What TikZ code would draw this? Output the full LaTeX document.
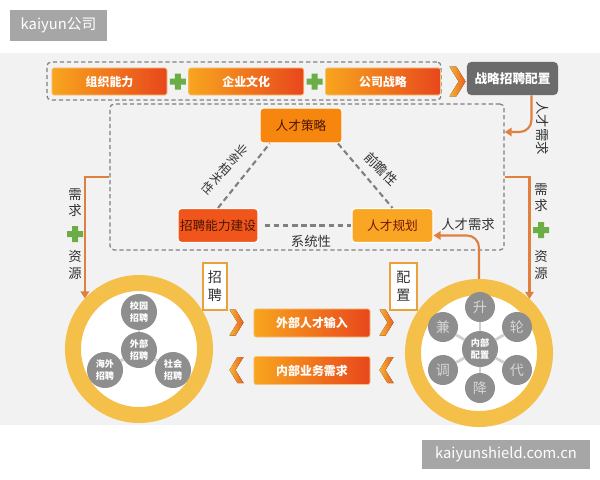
\documentclass[tikz,border=0pt]{standalone}
\usepackage{fontspec}
\setmainfont{Noto Sans CJK SC}
\usetikzlibrary{positioning,calc,arrows.meta}
\definecolor{bg}{HTML}{F2F2F2}
\definecolor{orgL}{HTML}{F8A51E}
\definecolor{orgR}{HTML}{E8471C}
\definecolor{orgE}{HTML}{F6C27A}
\definecolor{celA}{HTML}{F7860F}
\definecolor{celB}{HTML}{F0561C}
\definecolor{celC}{HTML}{F8A623}
\definecolor{txtA}{HTML}{4A1400}
\definecolor{txtB}{HTML}{7A1500}
\definecolor{txtD}{HTML}{333333}
\definecolor{dashC}{HTML}{808080}
\definecolor{lineC}{HTML}{E0803F}
\definecolor{tagC}{HTML}{E9A23B}
\definecolor{ringC}{HTML}{F4C04A}
\definecolor{dotC}{HTML}{8E8E8E}
\definecolor{dotT}{HTML}{D6D6D6}
\definecolor{linkC}{HTML}{D0D0D0}
\definecolor{wmC}{HTML}{A6A6A6}
\definecolor{grayD}{HTML}{6B6B6B}
\definecolor{plusC}{HTML}{6AAE45}
\definecolor{chvA}{HTML}{F9B233}
\definecolor{chvB}{HTML}{E8601C}
\tikzset{
  chevr/.pic={\fill[left color=chvA,right color=chvB] (-7,-13) -- (-1,-13) -- (7,0) -- (-1,13) -- (-7,13) -- (1,0) -- cycle;},
  plus/.pic={\fill[plusC] (-8,-3) rectangle (8,3) (-3,-8) rectangle (3,8);}
}
\begin{document}
\begin{tikzpicture}[x=0.025cm,y=-0.025cm,node distance=0.525cm,
    orgbox/.style={rounded corners=1.5pt,left color=orgL,right color=orgR,draw=orgE,line width=0.5pt,text=white,
      font=\bfseries\fontsize{8.5}{9}\selectfont,minimum width=2.875cm,minimum height=0.675cm,inner sep=0},
    tri/.style={rounded corners=2.5pt,draw=white,line width=0.8pt,minimum height=0.85cm,inner sep=0,font=\fontsize{9}{10}\selectfont},
    frame/.style={draw=dashC,dash pattern=on 3pt off 2pt,line width=0.9pt,rounded corners=3pt,inner sep=0},
    tie/.style={draw=dashC,dash pattern=on 4pt off 2.5pt,line width=1.5pt},
    oline/.style={draw=lineC,line width=1.5pt,-{Triangle[length=5pt,width=6pt]}},
    tag/.style={draw=tagC,fill=white,line width=1.2pt,minimum width=0.6cm,minimum height=1.175cm,inner sep=0,align=center,
      font=\fontsize{10}{13}\selectfont,text=txtD},
    ring/.style={circle,draw=ringC,line width=0.4cm,fill=white,minimum size=3.3cm,inner sep=0},
    dot/.style={circle,fill=dotC,text=white,inner sep=0,align=center,font=\bfseries\fontsize{6.5}{8}\selectfont},
    link/.style={draw=linkC,line width=2pt},
    vlab/.style={align=center,font=\fontsize{9.5}{11.5}\selectfont,text=txtD},
    wm/.style={fill=wmC,text=white,inner sep=0,font=\fontsize{10.5}{12}\selectfont}]
  \useasboundingbox (0,0) rectangle (600,480);
  \fill[bg] (0,53) rectangle (600,425);
  \node[wm,minimum width=2.425cm,minimum height=0.75cm] (w1) at (58.5,25.5) {kaiyun公司};
  \node[wm,minimum width=4.2cm,minimum height=0.725cm] (w2) at (506,454.5) {kaiyunshield.com.cn};
  % top row
  \node[frame,minimum width=9.85cm,minimum height=0.95cm] (top) at (244,81) {};
  \node[orgbox] (o1) at (109.5,81.5) {组织能力};
  \node[orgbox,right=of o1] (o2) {企业文化};
  \node[orgbox,right=of o2] (o3) {公司战略};
  \pic at ($(o1.east)!0.5!(o2.west)$) {plus};
  \pic at ($(o2.east)!0.5!(o3.west)$) {plus};
  \pic[scale=1.15] at (457.5,81.5) {chevr};
  \node[fill=grayD,rounded corners=3pt,text=white,font=\bfseries\fontsize{9}{10}\selectfont,
    minimum width=2.275cm,minimum height=0.825cm,inner sep=0] (zp) at (512.5,78.5) {战略招聘配置};
  % triangle
  \node[frame,minimum width=9.85cm,minimum height=3.65cm] (big) at (307,177) {};
  \node[tri,fill=celA,text=txtA,minimum width=2.05cm,minimum height=0.875cm] (rs) at (301,125.5) {人才策略};
  \node[tri,fill=celB,text=txtA,minimum width=2cm] (nl) at (218,225.5) {招聘能力建设};
  \node[tri,fill=celC,text=txtB,minimum width=2.025cm] (rp) at (392.5,225.5) {人才规划};
  \draw[tie] (nl.north) -- (rs.210);
  \draw[tie] (rs.334) -- (rp.north);
  \draw[tie] ([xshift=0.15cm]nl.east) -- (rp.west);
  \node[vlab,rotate=-42,font=\fontsize{8.5}{9}\selectfont] (l1) at (225,169) {业\\务\\相\\关\\性};
  \node[vlab,rotate=-45] (l2) at (381,169) {前瞻性};
  \node[vlab] (l3) at (311,241) {系统性};
  \node[vlab] (l4) at (468,224) {人才需求};
  \node[vlab,rotate=-90] (l5) at (543,128) {人才需求};
  \node[vlab] (l6) at (75,203) {需\\求};
  \pic at (75,234) {plus};
  \node[vlab] (l7) at (75,265) {资\\源};
  \node[vlab] (l8) at (541,198) {需\\求};
  \pic at (541,230) {plus};
  \node[vlab] (l9) at (541,265) {资\\源};
  % rings
  \node[ring] (lr) at (139,349) {};
  \node[ring] (rr) at (479,353) {};
  \draw[oline,rounded corners=0.3cm] ([xshift=0.475cm]zp.south) |- ([yshift=1.125cm]big.east);
  \draw[oline] (big.west) -| (lr.137);
  \draw[oline] (big.east) -| (rr.47);
  \draw[oline,rounded corners=0.3cm] (rr.north) |- ([yshift=-0.25cm]rp.east);
  \node[dot,minimum size=0.9cm] (d1) at (139,312) {校园\\招聘};
  \node[dot,minimum size=0.9cm] (d2) at (139,350) {外部\\招聘};
  \node[dot,minimum size=0.9cm] (d3) at (105,370) {海外\\招聘};
  \node[dot,minimum size=0.9cm] (d4) at (173,370) {社会\\招聘};
  \draw[link] (d2) -- (d1);
  \draw[link] (d2) -- (d3);
  \draw[link] (d2) -- (d4);
  \node[dot,minimum size=0.9cm] (c0) at (480,349) {内部\\配置};
  \foreach \n/\px/\py/\t in {c1/480/307/升,c2/517/327/轮,c3/517/370/代,c4/480/388/降,c5/443/370/调,c6/443/327/兼}{
    \node[dot,minimum size=0.75cm,text=dotT,font=\fontsize{10}{10}\selectfont] (\n) at (\px,\py) {\t};
    \draw[link] (c0) -- (\n);
  }
  % middle
  \node[tag] (t1) at (215,286.5) {招\\聘};
  \node[tag,minimum width=0.675cm] (t2) at (403.5,286.5) {配\\置};
  \node[orgbox,minimum width=2.9cm,minimum height=0.7cm] (m1) at (312,323) {外部人才输入};
  \node[orgbox,minimum width=2.9cm,minimum height=0.7cm] (m2) at (312,370.5) {内部业务需求};
  \pic at (236.5,322.5) {chevr};
  \pic at (386.5,322.5) {chevr};
  \pic[xscale=-1] at (236.5,370) {chevr};
  \pic[xscale=-1] at (386.5,370) {chevr};
\end{tikzpicture}
\end{document}
